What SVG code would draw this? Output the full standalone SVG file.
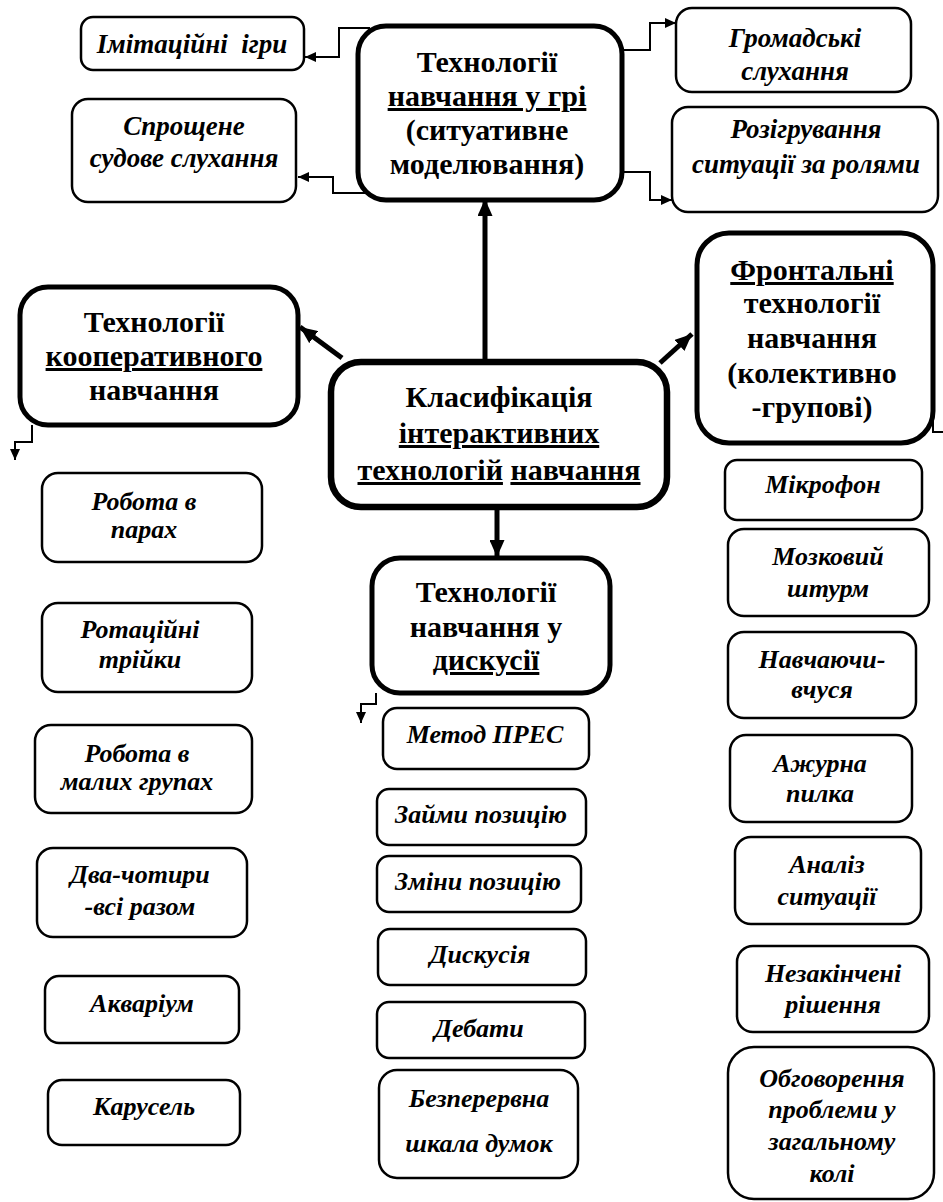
<svg xmlns="http://www.w3.org/2000/svg" width="943" height="1202" viewBox="0 0 943 1202">
<style>
.box{fill:#fff;stroke:#000}
.s{stroke-width:2.5}
.b{stroke-width:5}
.c{stroke-width:6.5}
.t{font-family:"Liberation Serif","DejaVu Serif","Times New Roman",serif;font-weight:bold;text-anchor:middle;fill:#000}
.h{font-size:30px}
.i{font-style:italic;font-size:26px}
.k{font-size:27px}
.u{text-decoration:underline}
.thin{fill:none;stroke:#000;stroke-width:2}
.thick{fill:none;stroke:#000;stroke-width:5}
</style>
<defs>
<marker id="a" markerUnits="userSpaceOnUse" markerWidth="11" markerHeight="10" refX="11" refY="5" orient="auto"><path d="M0,0 L11,5 L0,10 z" fill="#000"/></marker>
<marker id="A" markerUnits="userSpaceOnUse" markerWidth="17" markerHeight="15" refX="17" refY="7.5" orient="auto"><path d="M0,0 L17,7.5 L0,15 z" fill="#000"/></marker>
</defs>
<rect width="943" height="1202" fill="#fff"/>
<g id="connectors">
<path class="thin" d="M370,28 H339 V57 H305" marker-end="url(#a)"/>
<path class="thin" d="M370,193 H333 V177 H298" marker-end="url(#a)"/>
<path class="thin" d="M622,50 H650 V23 H676" marker-end="url(#a)"/>
<path class="thin" d="M622,172 H650 V200 H672" marker-end="url(#a)"/>
<path class="thin" d="M32,425 V442 H15 V460" marker-end="url(#a)"/>
<path class="thin" d="M376,693 V704 H361 V723" marker-end="url(#a)"/>
<path class="thin" d="M933,410 V432 H945"/>
<path class="thick" d="M485,360 V199" marker-end="url(#A)"/>
<path class="thick" d="M497,507 V557" marker-end="url(#A)"/>
<path class="thick" d="M342,358 L300,327" marker-end="url(#A)"/>
<path class="thick" d="M660,363 L692,334" marker-end="url(#A)"/>
</g>
<g id="game">
<rect class="box b" x="358" y="26" width="264" height="174" rx="28"/>
<text class="t h" x="487"><tspan x="487" y="72">Технології</tspan><tspan x="487" y="106" class="u">навчання у грі</tspan><tspan x="487" y="140">(ситуативне</tspan><tspan x="487" y="174">моделювання)</tspan></text>
</g>
<g id="central">
<rect class="box c" x="331" y="362" width="336" height="145" rx="30"/>
<text class="t h"><tspan x="499" y="407">Класифікація</tspan><tspan x="499" y="443" class="u">інтерактивних</tspan><tspan x="499" y="480"><tspan class="u">технологій</tspan> <tspan class="u">навчання</tspan></tspan></text>
</g>
<g id="coop">
<rect class="box b" x="20" y="287" width="278" height="138" rx="28"/>
<text class="t h"><tspan x="154" y="332">Технології</tspan><tspan x="154" y="366" class="u">кооперативного</tspan><tspan x="154" y="400">навчання</tspan></text>
</g>
<g id="frontal">
<rect class="box b" x="697" y="233" width="236" height="210" rx="32"/>
<text class="t h"><tspan x="812" y="280" class="u">Фронтальні</tspan><tspan x="812" y="313">технології</tspan><tspan x="812" y="348">навчання</tspan><tspan x="812" y="383">(колективно</tspan><tspan x="812" y="417">-групові)</tspan></text>
</g>
<g id="discussion">
<rect class="box b" x="372" y="558" width="238" height="135" rx="28"/>
<text class="t h"><tspan x="486" y="602">Технології</tspan><tspan x="486" y="637">навчання у</tspan><tspan x="486" y="670" class="u">дискусії</tspan></text>
</g>
<g id="n-imit"><rect class="box s" x="81" y="17" width="223" height="53" rx="12"/><text class="t i k" x="192" y="53">Імітаційні&#160; ігри</text></g>
<g id="n-sud"><rect class="box s" x="72" y="99" width="224" height="103" rx="16"/><text class="t i k"><tspan x="184" y="135">Спрощене</tspan><tspan x="184" y="167">судове слухання</tspan></text></g>
<g id="n-grom"><rect class="box s" x="676" y="8" width="235" height="84" rx="16"/><text class="t i k"><tspan x="795" y="47">Громадські</tspan><tspan x="795" y="80">слухання</tspan></text></g>
<g id="n-roz"><rect class="box s" x="672" y="107" width="266" height="105" rx="16"/><text class="t i k"><tspan x="806" y="138">Розігрування</tspan><tspan x="806" y="173">ситуації за ролями</tspan></text></g>
<g id="n-pary"><rect class="box s" x="42" y="473" width="220" height="89" rx="16"/><text class="t i"><tspan x="144" y="510">Робота в</tspan><tspan x="144" y="538">парах</tspan></text></g>
<g id="n-rot"><rect class="box s" x="42" y="603" width="210" height="89" rx="16"/><text class="t i"><tspan x="140" y="638">Ротаційні</tspan><tspan x="140" y="668">трійки</tspan></text></g>
<g id="n-mal"><rect class="box s" x="35" y="725" width="217" height="88" rx="16"/><text class="t i"><tspan x="137" y="762">Робота в</tspan><tspan x="137" y="790">малих групах</tspan></text></g>
<g id="n-dva"><rect class="box s" x="37" y="848" width="210" height="89" rx="16"/><text class="t i"><tspan x="140" y="883">Два-чотири</tspan><tspan x="140" y="915">-всі разом</tspan></text></g>
<g id="n-akv"><rect class="box s" x="45" y="976" width="194" height="67" rx="14"/><text class="t i" x="142" y="1012">Акваріум</text></g>
<g id="n-kar"><rect class="box s" x="48" y="1080" width="192" height="65" rx="14"/><text class="t i" x="144" y="1115">Карусель</text></g>
<g id="n-pres"><rect class="box s" x="383" y="708" width="206" height="61" rx="14"/><text class="t i" x="485" y="743">Метод ПРЕС</text></g>
<g id="n-zaimy"><rect class="box s" x="377" y="789" width="209" height="56" rx="12"/><text class="t i" x="481" y="823">Займи позицію</text></g>
<g id="n-zminy"><rect class="box s" x="377" y="856" width="204" height="56" rx="12"/><text class="t i" x="478" y="890">Зміни позицію</text></g>
<g id="n-dysk"><rect class="box s" x="378" y="929" width="208" height="56" rx="12"/><text class="t i" x="480" y="963">Дискусія</text></g>
<g id="n-deb"><rect class="box s" x="377" y="1002" width="208" height="56" rx="12"/><text class="t i" x="479" y="1037">Дебати</text></g>
<g id="n-bez"><rect class="box s" x="379" y="1070" width="199" height="108" rx="18"/><text class="t i"><tspan x="479" y="1107">Безперервна</tspan><tspan x="479" y="1152">шкала думок</tspan></text></g>
<g id="n-mikr"><rect class="box s" x="725" y="460" width="197" height="60" rx="12"/><text class="t i" x="823" y="493">Мікрофон</text></g>
<g id="n-mozk"><rect class="box s" x="728" y="529" width="201" height="87" rx="16"/><text class="t i"><tspan x="828" y="565">Мозковий</tspan><tspan x="828" y="597">штурм</tspan></text></g>
<g id="n-navch"><rect class="box s" x="728" y="632" width="188" height="86" rx="16"/><text class="t i"><tspan x="822" y="668">Навчаючи-</tspan><tspan x="822" y="698">вчуся</tspan></text></g>
<g id="n-azh"><rect class="box s" x="730" y="735" width="182" height="87" rx="16"/><text class="t i"><tspan x="820" y="772">Ажурна</tspan><tspan x="820" y="802">пилка</tspan></text></g>
<g id="n-anal"><rect class="box s" x="735" y="837" width="186" height="87" rx="16"/><text class="t i"><tspan x="827" y="873">Аналіз</tspan><tspan x="827" y="905">ситуації</tspan></text></g>
<g id="n-nezak"><rect class="box s" x="737" y="946" width="192" height="86" rx="16"/><text class="t i"><tspan x="833" y="982">Незакінчені</tspan><tspan x="833" y="1013">рішення</tspan></text></g>
<g id="n-obg"><rect class="box s" x="728" y="1047" width="206" height="152" rx="26"/><text class="t i"><tspan x="832" y="1087">Обговорення</tspan><tspan x="832" y="1118">проблеми у</tspan><tspan x="832" y="1150">загальному</tspan><tspan x="832" y="1182">колі</tspan></text></g>
</svg>
